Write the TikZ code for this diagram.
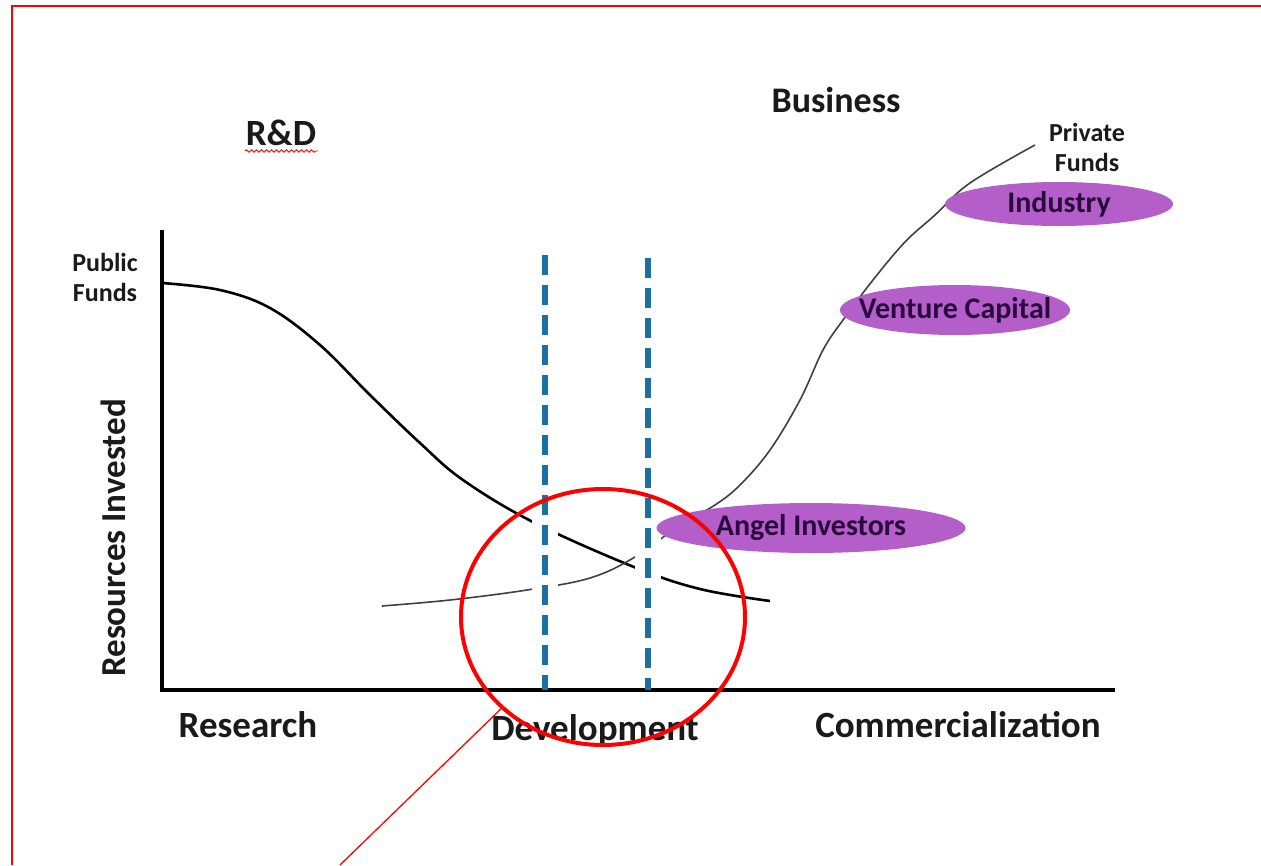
\documentclass[tikz,border=0pt]{standalone}
\usepackage{fontspec}
\setmainfont{Carlito}
\usetikzlibrary{decorations.pathmorphing,shapes.geometric}
\definecolor{purp}{HTML}{B35EC9}
\definecolor{purptext}{HTML}{2A0A3C}
\definecolor{dashblue}{HTML}{1B6FA3}
\definecolor{txt}{HTML}{1A1A1A}
\tikzset{
  lbl/.style={font=\bfseries\fontsize{#1}{#1}\selectfont, text=txt, inner sep=0pt},
  lbltwo/.style={font=\bfseries\fontsize{26}{30}\selectfont, text=txt, inner sep=0pt, align=center},
  fund/.style={ellipse, fill=purp, draw=none, minimum width=#1, inner sep=0pt},
  fundtext/.style={inner sep=0pt, font=\bfseries\fontsize{30}{30}\selectfont, text=purptext},
  devline/.style={dashblue, line width=5.5pt, dash pattern=on 20pt off 10pt},
  gapstripe/.style={white, line width=26pt},
  axis/.style={black, line width=4pt},
}
\begin{document}
\begin{tikzpicture}[x=1pt,y=-1pt]
\useasboundingbox (0,0) rectangle (1261,865);
\fill[white] (0,0) rectangle (1261,865);
% red frame
\draw[red, line width=1.6pt] (12,865) -- (12,6) -- (1261,6);
% axes
\coordinate (origin) at (162,690);
\coordinate (ytop) at (162,230);
\coordinate (xend) at (1115,690);
\draw[axis] (ytop) -- (origin) -- (xend);
% public funds curve
\draw[black, line width=2.6pt] plot[smooth, tension=0.6] coordinates {(162,283) (220,290) (270,308) (320,345) (370,395) (420,443) (463,480) (533,522) (634,567) (700,589) (770,601)};
% private funds curve
\draw[black!75, line width=1.6pt] plot[smooth, tension=0.6] coordinates {(382,606) (450,600) (527,590) (590,578) (635,557) (680,525) (715,505) (740,485) (770,450) (800,400) (823,350) (843,320) (873,280) (905,242) (935,215) (970,183) (1035,145)};
% gaps where the dashed lines cross
\coordinate (d1t) at (545,255);
\coordinate (d1b) at (545,690);
\coordinate (d2t) at (648,258);
\coordinate (d2b) at (648,690);
\draw[gapstripe] (545,495) -- (545,615);
\draw[gapstripe] (648,495) -- (648,615);
\draw[devline] (d1t) -- (d1b);
\draw[devline] (d2t) -- (d2b);
% funding ellipses
\node[fund=228pt, minimum height=44pt] (industry) at (1059,204) {};
\node[fundtext] (industryt) at (industry) {Industry};
\node[fund=230pt, minimum height=50pt] (vc) at (955,310) {};
\node[fundtext] (vct) at (vc) {Venture Capital};
\node[fund=309pt, minimum height=50pt] (angel) at (811,528) {};
\node[fundtext] (angelt) at (angel) {Angel Investors};
% labels
\node[lbl=37] (rd) at (281,133) {R\&D};
\draw[red, line width=0.9pt, decorate, decoration={snake, amplitude=1.2pt, segment length=5pt}] (245,151) -- (318,151);
\node[lbl=36] (business) at (836,100) {Business};
\node[lbltwo] (public) at (105,277) {Public\\Funds};
\node[lbltwo] (private) at (1087,147) {Private\\Funds};
\node[lbl=37] (research) at (248,725) {Research};
\node[lbl=37] (development) at (595,730) {Development};
\node[lbl=37] (commerc) at (958,725) {Commercialization};
\node[lbl=35, rotate=90] (resources) at (113,538) {Resources Invested};
% red highlight circle and pointer
\node[ellipse, draw=red, line width=4pt, minimum width=284pt, minimum height=256pt, inner sep=0pt] (focus) at (603,617) {};
\coordinate (ptr) at (340,865);
\draw[red, line width=1.3pt] (focus.222) -- (ptr);
\end{tikzpicture}
\end{document}
